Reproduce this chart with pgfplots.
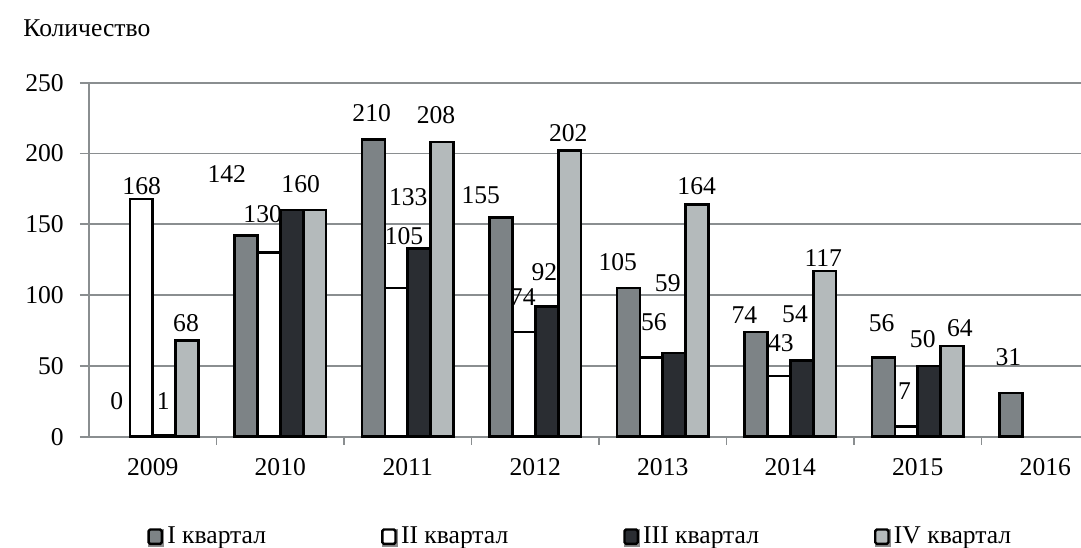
\documentclass[border=0pt]{standalone}
\usepackage{fontspec}
\setmainfont{Liberation Serif}
\usepackage{pgfplots}
\pgfplotsset{compat=1.18}
\definecolor{cI}{HTML}{7D8386}
\definecolor{cIII}{HTML}{2A2D32}
\definecolor{cIV}{HTML}{B4BABB}
\definecolor{gridc}{HTML}{8A8E90}
\pgfplotsset{
  myleg/.style={legend image code/.code={
    \fill[black!45] (0.4pt,-4.4pt) rectangle (7.2pt,3.0pt);
    \draw[##1, line width=1.2pt, rounded corners=0.8pt] (0pt,-3.6pt) rectangle (6.6pt,3.6pt);
  }},
}
\begin{document}
\fontsize{12.8}{15}\selectfont
\begin{tikzpicture}
\useasboundingbox (-44.5pt,-55.5pt) rectangle (496pt,218.35pt);
\begin{axis}[
  name=ax, at={(0pt,0pt)}, anchor=south west,
  scale only axis, width=496pt, height=177pt,
  xmin=-0.5, xmax=7.28, ymin=0, ymax=250,
  axis x line=bottom, axis y line=left,
  axis line style={gridc, line width=1.1pt, -},
  ytick={0,50,100,150,200,250},
  ymajorgrids, grid style={gridc, line width=0.9pt},
  tick align=outside, major tick length=4.5pt, minor tick length=4pt,
  tick style={gridc, line width=0.9pt},
  xtick={0,1,2,3,4,5,6,7},
  xticklabels={2009,2010,2011,2012,2013,2014,2015,2016},
  major x tick style={draw=none},
  minor xtick={0.5,1.5,2.5,3.5,4.5,5.5,6.5},
  /pgf/number format/assume math mode=true,
  yticklabel style={xshift=-3.7pt},
  xticklabel style={yshift=-1.7pt},
  clip=false,
  legend style={at={(29pt,-50pt)}, anchor=west, draw=none, fill=none,
    inner sep=0pt, column sep=0pt, nodes={inner sep=0pt},
    /tikz/every odd column/.append style={column sep=1.5pt},
    /tikz/every even column/.append style={column sep=57.5pt}},
  legend columns=4,
]
\addplot[ybar, bar width=0.18, bar shift=-0.27, fill=cI, draw=black, line width=1.3pt, myleg]
  coordinates {(1,142) (2,210) (3,155) (4,105) (5,74) (6,56) (7,31)};
\addplot[ybar, bar width=0.18, bar shift=-0.09, fill=white, draw=black, line width=1.3pt, myleg]
  coordinates {(0,168) (1,130) (2,105) (3,74) (4,56) (5,43) (6,7)};
\addplot[ybar, bar width=0.18, bar shift=0.09, fill=cIII, draw=black, line width=1.3pt, myleg]
  coordinates {(0,1) (1,160) (2,133) (3,92) (4,59) (5,54) (6,50)};
\addplot[ybar, bar width=0.18, bar shift=0.27, fill=cIV, draw=black, line width=1.3pt, myleg]
  coordinates {(0,68) (1,160) (2,208) (3,202) (4,164) (5,117) (6,64)};
\legend{I квартал, II квартал, III квартал, IV квартал}
\addplot[draw=none, mark=none, forget plot, nodes near coords, point meta=explicit symbolic,
  every node near coord/.append style={anchor=center, inner sep=0pt}]
  table[meta=lab] {
x y lab
-0.283 24.9 0
0.580 185.2 142
1.717 228.4 210
2.572 170.4 155
3.647 123.5 105
4.640 85.9 74
5.717 80.1 56
6.710 56.5 31
-0.087 176.8 168
0.862 157.0 130
1.971 141.8 105
2.902 98.6 74
3.931 80.8 56
4.927 66.4 43
5.895 32.4 7
0.083 24.9 1
1.160 178.7 160
2.004 169.2 133
3.071 116.4 92
4.039 108.7 59
5.037 86.6 54
6.039 68.8 50
0.261 80.5 68
2.222 226.8 208
3.259 214.3 202
4.266 176.8 164
5.259 126.5 117
6.331 76.5 64
};
\node[anchor=west, inner sep=0pt] at (axis description cs:-0.0665,1.155) {Количество};
\end{axis}
\end{tikzpicture}
\end{document}
